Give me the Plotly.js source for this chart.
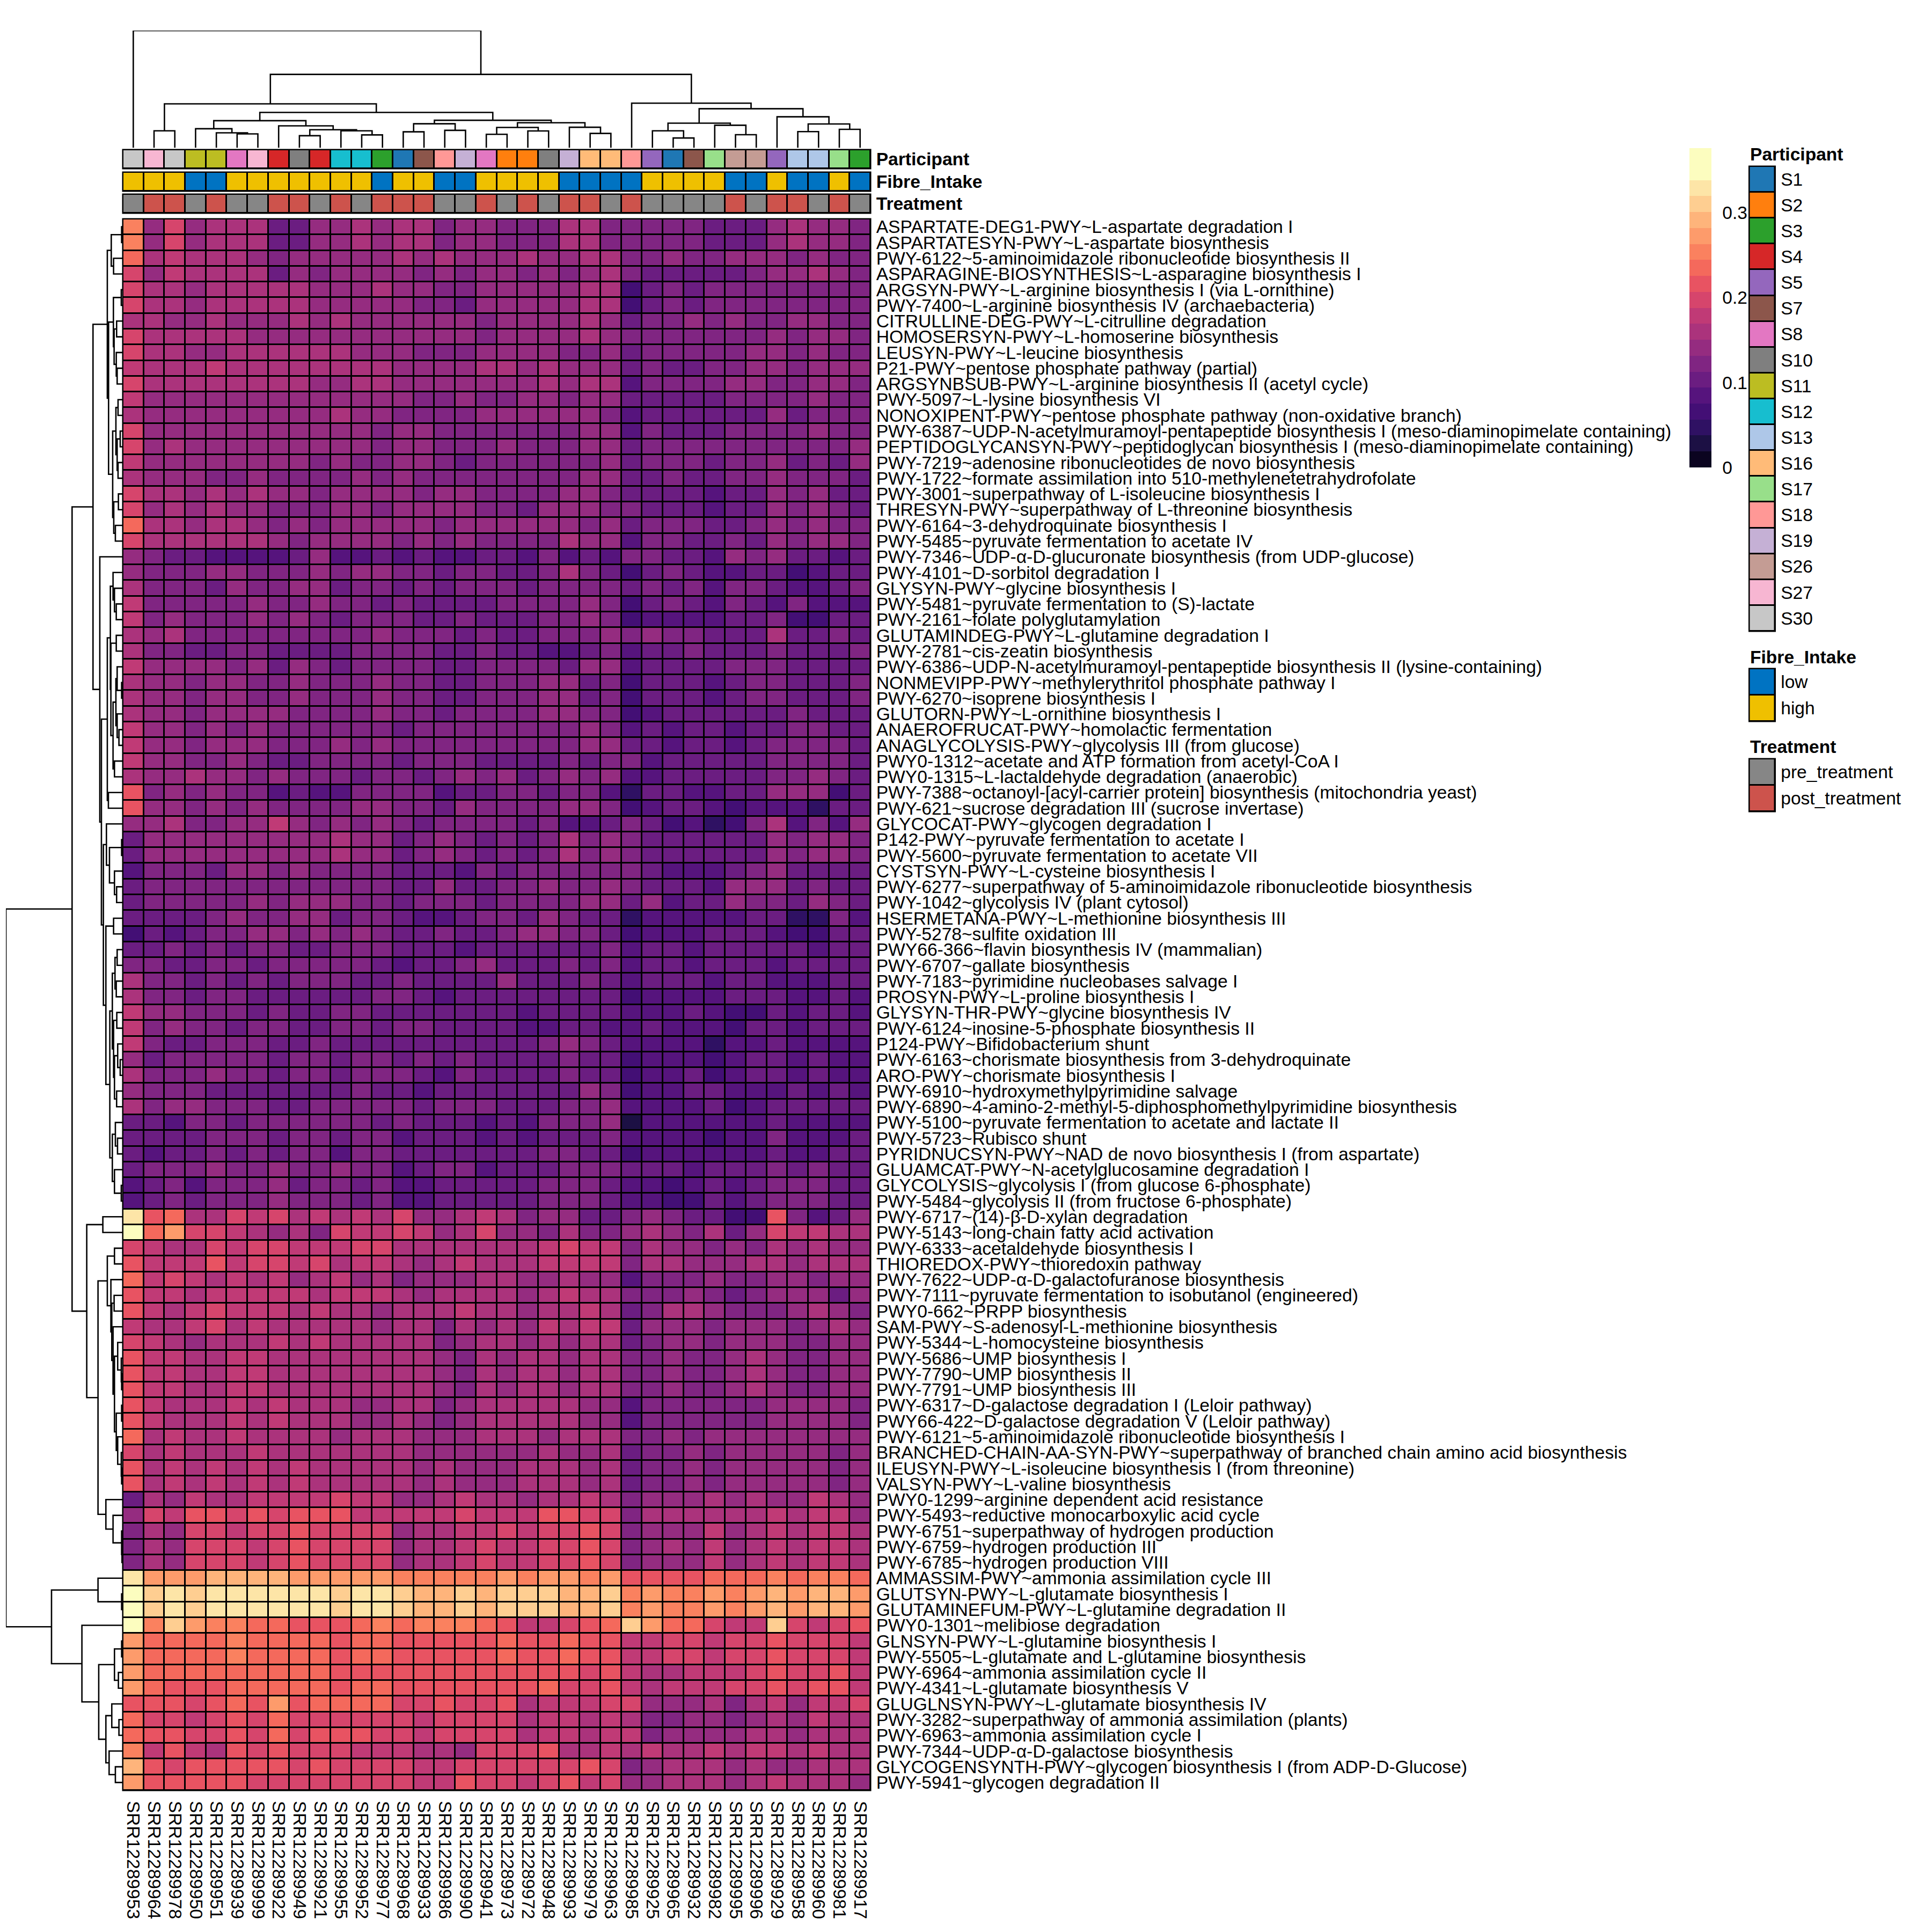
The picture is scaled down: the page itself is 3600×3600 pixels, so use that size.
<!DOCTYPE html>
<html><head><meta charset="utf-8">
<script src="https://cdn.plot.ly/plotly-3.0.1.min.js"></script>
<style>html,body{margin:0;padding:0;background:#fff}</style></head>
<body><div id="chart" style="width:3600px;height:3600px"></div>
<script>
const colLabels=["SRR12289953","SRR12289964","SRR12289978","SRR12289950","SRR12289951","SRR12289939","SRR12289999","SRR12289922","SRR12289949","SRR12289921","SRR12289955","SRR12289952","SRR12289977","SRR12289968","SRR12289933","SRR12289986","SRR12289990","SRR12289941","SRR12289973","SRR12289972","SRR12289948","SRR12289993","SRR12289979","SRR12289963","SRR12289985","SRR12289925","SRR12289965","SRR12289932","SRR12289982","SRR12289995","SRR12289996","SRR12289929","SRR12289958","SRR12289960","SRR12289981","SRR12289917"];
const rowLabels=["ASPARTATE-DEG1-PWY~L-aspartate degradation I","ASPARTATESYN-PWY~L-aspartate biosynthesis","PWY-6122~5-aminoimidazole ribonucleotide biosynthesis II","ASPARAGINE-BIOSYNTHESIS~L-asparagine biosynthesis I","ARGSYN-PWY~L-arginine biosynthesis I (via L-ornithine)","PWY-7400~L-arginine biosynthesis IV (archaebacteria)","CITRULLINE-DEG-PWY~L-citrulline degradation","HOMOSERSYN-PWY~L-homoserine biosynthesis","LEUSYN-PWY~L-leucine biosynthesis","P21-PWY~pentose phosphate pathway (partial)","ARGSYNBSUB-PWY~L-arginine biosynthesis II (acetyl cycle)","PWY-5097~L-lysine biosynthesis VI","NONOXIPENT-PWY~pentose phosphate pathway (non-oxidative branch)","PWY-6387~UDP-N-acetylmuramoyl-pentapeptide biosynthesis I (meso-diaminopimelate containing)","PEPTIDOGLYCANSYN-PWY~peptidoglycan biosynthesis I (meso-diaminopimelate containing)","PWY-7219~adenosine ribonucleotides de novo biosynthesis","PWY-1722~formate assimilation into 510-methylenetetrahydrofolate","PWY-3001~superpathway of L-isoleucine biosynthesis I","THRESYN-PWY~superpathway of L-threonine biosynthesis","PWY-6164~3-dehydroquinate biosynthesis I","PWY-5485~pyruvate fermentation to acetate IV","PWY-7346~UDP-α-D-glucuronate biosynthesis (from UDP-glucose)","PWY-4101~D-sorbitol degradation I","GLYSYN-PWY~glycine biosynthesis I","PWY-5481~pyruvate fermentation to (S)-lactate","PWY-2161~folate polyglutamylation","GLUTAMINDEG-PWY~L-glutamine degradation I","PWY-2781~cis-zeatin biosynthesis","PWY-6386~UDP-N-acetylmuramoyl-pentapeptide biosynthesis II (lysine-containing)","NONMEVIPP-PWY~methylerythritol phosphate pathway I","PWY-6270~isoprene biosynthesis I","GLUTORN-PWY~L-ornithine biosynthesis I","ANAEROFRUCAT-PWY~homolactic fermentation","ANAGLYCOLYSIS-PWY~glycolysis III (from glucose)","PWY0-1312~acetate and ATP formation from acetyl-CoA I","PWY0-1315~L-lactaldehyde degradation (anaerobic)","PWY-7388~octanoyl-[acyl-carrier protein] biosynthesis (mitochondria yeast)","PWY-621~sucrose degradation III (sucrose invertase)","GLYCOCAT-PWY~glycogen degradation I","P142-PWY~pyruvate fermentation to acetate I","PWY-5600~pyruvate fermentation to acetate VII","CYSTSYN-PWY~L-cysteine biosynthesis I","PWY-6277~superpathway of 5-aminoimidazole ribonucleotide biosynthesis","PWY-1042~glycolysis IV (plant cytosol)","HSERMETANA-PWY~L-methionine biosynthesis III","PWY-5278~sulfite oxidation III","PWY66-366~flavin biosynthesis IV (mammalian)","PWY-6707~gallate biosynthesis","PWY-7183~pyrimidine nucleobases salvage I","PROSYN-PWY~L-proline biosynthesis I","GLYSYN-THR-PWY~glycine biosynthesis IV","PWY-6124~inosine-5-phosphate biosynthesis II","P124-PWY~Bifidobacterium shunt","PWY-6163~chorismate biosynthesis from 3-dehydroquinate","ARO-PWY~chorismate biosynthesis I","PWY-6910~hydroxymethylpyrimidine salvage","PWY-6890~4-amino-2-methyl-5-diphosphomethylpyrimidine biosynthesis","PWY-5100~pyruvate fermentation to acetate and lactate II","PWY-5723~Rubisco shunt","PYRIDNUCSYN-PWY~NAD de novo biosynthesis I (from aspartate)","GLUAMCAT-PWY~N-acetylglucosamine degradation I","GLYCOLYSIS~glycolysis I (from glucose 6-phosphate)","PWY-5484~glycolysis II (from fructose 6-phosphate)","PWY-6717~(14)-β-D-xylan degradation","PWY-5143~long-chain fatty acid activation","PWY-6333~acetaldehyde biosynthesis I","THIOREDOX-PWY~thioredoxin pathway","PWY-7622~UDP-α-D-galactofuranose biosynthesis","PWY-7111~pyruvate fermentation to isobutanol (engineered)","PWY0-662~PRPP biosynthesis","SAM-PWY~S-adenosyl-L-methionine biosynthesis","PWY-5344~L-homocysteine biosynthesis","PWY-5686~UMP biosynthesis I","PWY-7790~UMP biosynthesis II","PWY-7791~UMP biosynthesis III","PWY-6317~D-galactose degradation I (Leloir pathway)","PWY66-422~D-galactose degradation V (Leloir pathway)","PWY-6121~5-aminoimidazole ribonucleotide biosynthesis I","BRANCHED-CHAIN-AA-SYN-PWY~superpathway of branched chain amino acid biosynthesis","ILEUSYN-PWY~L-isoleucine biosynthesis I (from threonine)","VALSYN-PWY~L-valine biosynthesis","PWY0-1299~arginine dependent acid resistance","PWY-5493~reductive monocarboxylic acid cycle","PWY-6751~superpathway of hydrogen production","PWY-6759~hydrogen production III","PWY-6785~hydrogen production VIII","AMMASSIM-PWY~ammonia assimilation cycle III","GLUTSYN-PWY~L-glutamate biosynthesis I","GLUTAMINEFUM-PWY~L-glutamine degradation II","PWY0-1301~melibiose degradation","GLNSYN-PWY~L-glutamine biosynthesis I","PWY-5505~L-glutamate and L-glutamine biosynthesis","PWY-6964~ammonia assimilation cycle II","PWY-4341~L-glutamate biosynthesis V","GLUGLNSYN-PWY~L-glutamate biosynthesis IV","PWY-3282~superpathway of ammonia assimilation (plants)","PWY-6963~ammonia assimilation cycle I","PWY-7344~UDP-α-D-galactose biosynthesis","GLYCOGENSYNTH-PWY~glycogen biosynthesis I (from ADP-D-Glucose)","PWY-5941~glycogen degradation II"];
// relative abundance, in percent
const cellPercent=[
[25,14,20,14,16,16,16,11,11,14,14,16,14,16,16,13,14,14,13,13,13,16,16,13,13,13,13,13,11,11,11,14,16,14,14,13],
[25,14,20,14,16,16,16,11,11,14,14,16,14,16,16,13,14,14,13,13,13,16,16,13,13,13,13,13,11,11,11,14,16,14,14,13],
[24,16,18,16,16,16,14,13,14,14,14,14,14,16,14,16,14,14,14,16,14,14,16,16,13,13,14,13,13,14,14,14,13,14,13,13],
[20,14,18,16,16,16,16,11,14,13,14,14,14,14,13,14,13,14,14,13,14,13,14,16,13,11,11,11,11,11,13,14,14,16,14,13],
[20,16,16,14,16,16,16,16,16,14,14,14,16,14,14,13,13,14,14,14,14,14,16,16,7,11,13,11,13,13,13,13,13,13,13,13],
[20,16,16,14,16,16,16,16,16,14,14,14,14,14,13,13,11,14,14,14,14,14,16,16,7,11,13,11,13,13,13,13,13,13,13,13],
[16,16,14,14,16,14,14,14,16,14,16,14,14,14,14,14,14,13,14,14,14,14,16,14,11,13,13,14,13,14,13,13,14,14,13,13],
[20,16,16,16,16,16,14,14,14,14,14,14,14,14,14,14,14,13,14,14,14,14,16,14,13,13,13,13,13,13,13,14,13,14,14,13],
[20,16,16,14,14,16,16,16,16,16,16,14,14,14,13,13,13,14,14,14,14,13,13,14,11,13,13,13,13,13,14,14,13,14,13,13],
[18,16,16,16,18,16,16,16,16,16,16,16,16,14,14,14,14,16,16,14,16,14,14,14,11,13,11,11,13,13,14,14,13,14,14,14],
[20,16,16,16,16,16,16,16,16,14,14,16,16,14,14,14,14,14,14,14,16,14,16,16,9,13,13,13,13,14,14,13,13,14,14,13],
[18,14,14,14,14,14,14,14,14,14,14,14,14,14,13,13,14,13,13,14,14,13,14,14,11,11,11,11,11,13,13,13,13,14,13,13],
[16,14,14,14,14,14,14,14,14,14,16,14,14,13,13,13,13,14,14,14,14,14,14,13,9,11,11,11,11,11,11,14,11,13,13,13],
[20,14,14,14,14,14,14,14,14,14,14,14,13,14,14,13,13,13,13,13,13,13,14,14,9,13,11,11,11,13,13,13,13,14,13,13],
[20,14,16,14,14,14,14,14,14,14,14,14,13,14,14,13,13,13,14,13,13,13,14,14,11,13,13,13,13,13,13,13,13,13,13,14],
[18,14,14,14,14,14,14,14,14,13,14,13,13,14,14,13,11,13,13,13,13,13,13,14,11,13,13,13,11,13,13,14,11,13,11,14],
[16,14,14,14,13,13,14,13,13,13,13,14,13,14,13,13,13,13,13,13,13,13,14,14,11,11,13,11,11,13,13,14,13,13,13,11],
[20,16,16,14,16,14,16,14,14,13,14,14,14,14,13,14,14,13,13,13,13,14,14,13,11,11,11,11,9,11,11,14,13,14,11,11],
[20,14,16,14,16,14,14,13,13,13,14,14,13,14,14,14,14,13,13,11,14,14,14,13,13,11,11,11,9,11,11,14,13,14,13,11],
[24,16,16,14,16,16,14,13,14,13,14,14,14,14,14,13,14,14,14,14,14,14,13,14,11,13,13,13,11,11,13,14,13,14,13,13],
[20,16,16,16,16,16,16,14,13,14,14,14,14,13,14,13,14,13,13,13,13,16,14,14,9,13,13,11,11,13,11,14,13,14,14,13],
[14,13,11,11,9,9,9,9,11,14,9,9,11,9,11,9,9,11,11,9,13,9,11,9,13,13,11,11,9,14,13,14,11,11,9,11],
[14,13,13,13,14,14,13,13,13,14,13,14,14,13,13,11,13,13,11,11,13,16,13,11,7,11,13,11,9,9,11,11,7,9,11,11],
[16,13,13,13,11,14,13,13,14,14,11,13,13,11,13,11,13,13,13,11,13,13,13,13,11,13,11,13,9,13,13,11,9,9,11,13],
[18,13,13,13,13,13,14,13,13,14,13,13,11,13,11,11,11,11,13,13,13,13,14,13,7,11,13,11,9,13,11,9,13,9,9,9],
[18,13,14,13,13,13,14,13,14,13,11,13,13,13,11,11,13,11,11,11,13,13,14,13,7,9,9,9,9,11,11,13,7,7,11,11],
[16,14,16,13,13,13,13,13,13,13,13,13,14,13,13,13,11,13,11,11,13,13,13,14,13,14,13,13,11,11,11,16,11,11,13,11],
[16,13,13,11,11,13,13,11,11,11,11,13,13,13,13,11,11,13,11,11,9,9,11,13,9,11,11,13,11,11,11,13,11,11,11,13],
[18,14,14,14,14,13,14,11,14,13,11,13,13,13,13,11,11,13,13,13,13,11,14,14,9,11,11,11,11,13,13,13,11,11,11,11],
[16,14,14,13,14,14,13,13,14,13,13,13,14,13,13,11,11,13,13,13,14,14,11,13,7,11,11,11,9,11,13,13,11,11,11,13],
[16,14,14,13,14,14,13,13,14,13,13,13,14,13,13,11,11,13,13,13,14,14,11,13,7,11,11,11,9,11,13,13,11,11,11,13],
[16,14,14,13,14,14,14,14,13,13,13,13,14,13,13,11,13,13,13,13,14,14,13,13,7,9,11,11,11,11,11,11,13,11,11,11],
[18,14,14,13,14,13,14,13,13,13,13,13,13,11,13,13,13,13,13,13,13,13,14,13,9,11,9,11,11,9,11,11,13,13,11,11],
[18,14,14,13,14,14,14,13,13,13,14,13,14,13,13,13,13,13,13,13,13,13,14,14,11,11,9,11,11,9,11,13,13,13,13,11],
[18,14,14,13,13,14,13,11,11,13,13,13,13,11,13,13,13,11,11,11,11,13,11,13,13,9,11,11,11,11,11,13,13,13,13,11],
[16,14,14,16,14,14,13,14,13,13,13,11,13,13,11,13,14,13,14,11,13,14,13,14,9,9,11,11,11,11,11,13,13,14,13,11],
[22,13,14,13,14,13,13,9,11,9,9,13,13,13,13,9,11,11,13,13,11,13,13,9,5,11,11,9,9,11,11,14,14,14,7,11],
[22,14,14,13,14,13,14,13,13,13,13,14,14,13,13,11,14,13,13,13,13,14,14,13,7,9,11,11,9,7,9,9,9,5,11,11],
[14,14,16,13,13,14,14,18,14,13,14,13,14,13,11,13,13,13,13,11,13,9,9,11,13,11,7,9,5,7,13,16,9,13,9,14],
[11,14,14,14,14,14,14,14,14,14,16,14,14,11,13,14,13,11,13,11,13,16,13,14,13,11,11,11,11,11,11,14,13,14,14,13],
[11,14,14,14,14,14,14,14,14,14,16,14,14,11,13,14,13,11,13,11,13,16,13,14,13,11,11,11,11,11,11,14,13,14,14,13],
[9,13,13,13,11,14,14,13,14,13,13,13,13,11,11,11,9,13,11,13,13,13,13,13,13,11,9,9,9,11,13,14,11,11,11,11],
[11,13,13,13,13,13,13,13,13,13,13,13,13,11,11,14,11,11,13,13,14,13,13,14,13,11,11,11,9,14,14,14,11,13,11,11],
[11,13,13,13,13,13,14,13,14,14,14,13,13,11,13,13,13,11,13,13,13,13,14,14,11,14,9,11,11,14,13,13,11,14,13,11],
[11,11,11,11,13,14,13,13,14,14,11,13,13,11,9,9,11,13,13,11,14,13,11,11,5,9,9,9,9,9,11,11,5,5,13,9],
[7,11,9,11,13,13,14,14,13,14,13,14,13,11,11,13,11,11,13,14,14,13,13,11,7,9,9,9,11,11,11,9,7,7,11,11],
[11,11,13,11,13,11,13,13,11,11,13,13,13,11,11,11,9,11,11,11,11,11,11,13,9,11,11,9,11,11,11,11,11,9,11,11],
[13,13,11,11,13,13,11,13,13,13,13,13,11,9,11,11,13,14,11,11,11,13,11,13,9,11,11,9,11,11,11,9,11,11,11,11],
[16,13,13,11,13,11,13,11,13,13,13,11,11,13,11,11,11,11,14,11,11,11,13,11,9,11,11,11,9,11,11,9,9,9,11,11],
[16,13,13,11,13,13,11,11,11,11,11,11,13,13,11,9,11,11,11,11,11,11,11,11,7,9,9,9,9,11,11,11,9,9,11,9],
[18,14,14,13,13,13,11,13,11,11,13,13,11,11,11,11,11,11,11,9,11,11,11,11,9,9,9,11,9,7,7,11,9,11,11,9],
[18,13,14,13,13,11,13,13,11,11,13,13,11,13,13,11,11,11,11,9,9,11,11,9,9,11,9,9,9,7,11,11,9,11,11,11],
[18,13,11,11,13,13,13,11,11,13,11,11,11,11,11,11,11,11,11,11,13,14,13,11,9,9,9,9,5,9,9,11,9,9,9,9],
[14,11,13,13,13,13,13,11,13,13,11,13,13,11,13,11,13,11,11,11,11,13,11,11,7,9,9,9,7,9,11,11,9,11,9,9],
[16,13,13,13,14,13,13,11,13,13,11,13,13,13,11,9,13,11,11,11,11,13,11,11,7,9,9,11,7,9,11,11,9,11,9,9],
[14,13,13,13,11,11,11,11,11,11,11,13,11,11,9,11,11,11,11,11,11,11,14,13,7,9,9,11,11,9,9,9,11,9,11,9],
[16,13,14,14,13,13,13,11,11,13,13,13,13,13,11,13,13,13,11,11,11,13,13,14,9,9,9,9,11,7,9,11,11,11,11,11],
[11,11,9,13,13,11,13,13,13,13,13,13,11,13,11,11,11,9,11,9,13,13,13,14,3,9,9,9,9,9,9,11,9,9,9,9],
[11,11,11,11,13,13,13,11,13,13,11,13,13,9,11,11,11,9,11,9,11,11,11,13,9,9,9,9,7,9,9,13,9,9,9,11],
[11,9,11,11,13,11,13,11,13,13,9,13,13,11,11,11,11,11,11,11,13,13,11,11,7,9,9,9,9,9,9,11,9,9,11,11],
[11,13,13,13,14,13,13,14,13,13,14,13,13,9,11,13,13,9,11,11,11,13,13,13,11,11,11,9,11,11,11,13,11,13,11,11],
[9,11,13,9,13,13,13,14,11,13,13,11,13,9,9,11,11,11,11,11,13,13,13,11,9,9,7,9,11,9,11,13,13,13,11,11],
[9,11,13,11,13,13,13,14,13,13,13,11,13,9,9,11,11,11,11,11,13,13,13,11,9,9,7,7,11,9,11,13,13,13,11,11],
[33,22,24,16,16,20,18,20,16,18,16,18,16,20,14,14,16,18,16,13,14,14,11,11,13,14,13,11,11,7,7,22,13,9,11,14],
[35,24,27,20,20,18,16,14,16,13,20,18,18,20,18,14,16,20,14,14,13,16,13,13,14,16,14,13,16,11,14,20,18,18,16,16],
[20,18,16,16,20,18,20,20,18,18,18,20,20,16,16,16,16,16,16,16,18,20,18,18,13,16,14,14,13,14,13,16,14,16,14,14],
[22,18,18,18,22,18,20,20,18,20,16,18,18,16,14,16,18,16,16,16,18,18,18,18,13,16,16,14,14,14,16,16,14,16,16,16],
[24,18,20,18,16,18,16,18,14,16,18,14,16,13,14,14,14,16,16,14,14,16,14,14,9,13,13,13,14,13,13,14,14,13,14,14],
[22,18,18,16,18,18,18,18,18,16,18,18,18,16,14,16,16,16,16,14,16,18,16,16,13,13,13,14,13,11,13,14,14,14,11,14],
[22,18,16,18,20,18,18,18,16,18,16,16,14,16,16,16,18,16,16,14,16,16,18,16,11,13,16,16,14,13,13,13,14,16,14,13],
[18,16,16,18,20,16,18,16,16,16,16,16,14,16,16,13,16,14,16,14,18,16,18,18,11,14,14,14,13,14,14,14,13,14,16,14],
[20,18,16,14,16,16,16,18,16,18,16,16,16,16,16,13,14,16,16,14,16,14,16,16,11,13,14,14,13,14,14,14,13,13,14,14],
[22,18,18,16,16,18,18,16,16,16,16,16,16,16,16,14,13,16,14,16,16,14,16,16,13,13,14,13,13,14,16,14,13,13,14,14],
[22,18,18,16,16,18,18,16,16,16,16,16,16,16,16,14,13,16,14,16,16,14,16,16,13,13,14,13,13,14,16,14,13,13,14,14],
[22,18,18,16,16,18,18,16,16,16,16,16,16,16,16,14,13,16,14,16,16,14,16,16,13,13,14,13,13,14,16,14,13,13,14,14],
[22,18,16,16,16,18,16,18,16,16,16,14,14,16,16,13,14,16,16,16,16,16,14,14,9,13,13,13,13,13,13,14,14,14,14,13],
[22,18,16,16,16,18,16,18,16,16,16,14,14,16,14,13,14,16,16,16,16,16,14,14,9,13,13,13,13,13,13,14,14,14,14,13],
[24,16,18,16,16,18,16,16,16,16,14,16,16,16,14,14,14,16,16,16,14,16,16,16,13,13,14,13,14,14,14,14,14,14,14,14],
[20,16,18,16,16,16,18,16,16,16,16,16,16,16,14,14,14,14,14,14,16,14,14,16,11,13,13,14,13,14,14,14,14,14,13,14],
[22,16,18,16,18,16,18,16,18,16,16,16,16,16,14,16,14,14,14,16,16,16,14,16,11,13,13,14,13,14,14,14,14,14,13,14],
[22,16,18,16,18,16,18,16,18,16,16,16,16,16,14,16,14,14,14,16,16,16,14,16,11,13,13,14,13,14,14,14,14,14,13,14],
[11,16,14,18,16,16,18,18,18,18,20,18,18,14,14,16,18,16,16,14,16,16,18,16,13,14,14,14,16,14,16,14,14,18,16,14],
[14,20,18,22,22,20,22,20,22,22,22,18,18,18,18,18,20,18,18,18,22,22,20,20,13,16,16,16,16,16,16,18,16,18,18,14],
[13,16,14,20,20,18,20,20,22,20,20,20,20,14,16,16,18,18,20,18,20,20,22,20,13,14,14,14,18,14,16,18,16,18,18,16],
[13,16,14,20,20,20,18,20,22,20,20,20,20,14,16,16,18,20,18,18,20,20,22,20,13,14,16,14,18,14,16,18,16,18,18,16],
[13,16,14,20,20,20,18,20,22,20,20,20,20,14,16,16,18,20,18,18,20,20,22,20,13,14,14,14,18,14,16,18,16,18,18,16],
[33,27,27,27,29,29,29,29,27,27,27,27,27,26,26,26,26,26,27,26,27,27,26,27,22,22,22,22,24,24,24,26,24,26,26,24],
[35,31,33,31,33,33,33,33,33,33,31,33,33,31,29,29,31,29,31,31,31,29,29,31,26,27,26,26,27,26,27,29,27,29,29,27],
[35,31,33,31,33,33,33,33,33,33,31,33,33,31,29,29,31,29,31,31,31,29,29,31,26,27,26,26,27,26,27,29,27,29,29,27],
[35,26,31,27,26,26,24,24,22,22,22,24,26,24,26,26,26,24,22,18,18,20,22,24,31,27,24,24,20,18,18,31,20,18,20,22],
[27,24,24,24,24,26,24,24,24,24,22,24,24,22,22,22,22,22,24,22,22,24,22,22,18,18,20,20,18,20,20,22,20,20,20,18],
[27,24,24,24,24,26,24,24,24,24,22,24,24,22,22,22,22,22,24,22,22,24,22,22,18,18,20,20,18,20,20,22,20,20,20,18],
[27,24,24,24,24,24,24,24,24,24,22,22,22,22,22,22,22,22,22,22,22,22,20,22,18,16,16,18,18,18,20,22,20,20,22,18],
[27,24,22,22,22,24,24,24,24,24,22,24,24,22,22,22,22,22,22,22,24,20,20,22,18,16,18,18,18,20,20,22,20,22,22,18],
[22,22,22,20,22,24,22,27,22,24,24,24,24,20,20,22,20,20,22,16,18,18,18,20,20,14,14,14,16,13,16,18,14,18,18,20],
[24,20,20,18,20,22,20,24,20,20,20,20,20,20,18,20,20,20,20,16,18,18,16,18,16,13,13,14,14,13,14,16,14,18,16,16],
[24,22,22,20,20,22,20,24,20,22,22,22,20,20,18,20,20,20,20,16,18,18,16,18,18,13,14,14,14,14,16,16,14,16,16,16],
[25,18,22,18,16,22,20,22,20,20,20,18,18,18,16,16,14,20,20,20,22,16,16,18,16,18,16,16,18,16,18,18,16,18,16,16],
[29,22,20,22,22,22,22,22,20,22,20,20,20,20,18,18,20,20,20,20,20,20,22,20,13,14,16,16,16,14,16,14,14,16,16,16],
[27,22,22,22,22,22,20,20,20,20,20,20,20,20,18,18,22,20,20,18,20,22,18,20,14,14,16,16,16,14,16,18,16,16,16,14]
];
const participant=["S30","S27","S30","S11","S11","S8","S27","S4","S10","S4","S12","S12","S3","S1","S7","S18","S19","S8","S2","S2","S10","S19","S16","S16","S18","S5","S1","S7","S17","S26","S26","S5","S13","S13","S17","S3"];
const fibreIntake=["high","high","high","low","low","high","high","high","high","high","high","high","low","high","high","low","low","high","high","high","high","low","low","low","low","high","high","high","high","low","low","high","low","low","high","low"];
const treatment=["pre","post","post","pre","post","pre","pre","post","post","pre","post","pre","post","post","post","pre","pre","post","pre","post","pre","post","post","pre","post","pre","pre","pre","pre","post","pre","post","post","pre","post","pre"];
const participantLevels=["S1","S2","S3","S4","S5","S7","S8","S10","S11","S12","S13","S16","S17","S18","S19","S26","S27","S30"];
const participantColors=["#1F77B4","#FF7F0E","#2CA02C","#D62728","#9467BD","#8C564B","#E377C2","#7F7F7F","#BCBD22","#17BECF","#AEC7E8","#FFBB78","#98DF8A","#FF9896","#C5B0D5","#C49C94","#F7B6D2","#C7C7C7"];
const fibreLevels=["low","high"],fibreColors=["#0073C2","#EFC000"];
const treatmentLevels=["pre_treatment","post_treatment"],treatmentColors=["#868686","#CD534C"];
const binColors=["#0B0420","#1C1044","#2F1163","#430F75","#56147D","#6B1D81","#802582","#952C80","#AB337C","#C03A76","#D6456C","#E85362","#F4695C","#FA815F","#FD9B6B","#FEB47B","#FECE91","#FDE5A7","#FCFDBF","#FCFDBF"];
const zMax=0.376;
// hierarchical merges: negative = leaf number, positive = earlier merge
const colMergeA=[-2,-6,-5,-4,-9,-12,-11,5,-8,4,-14,-16,11,-18,-20,14,-23,-22,16,13,10,1,-27,-26,-30,-29,24,-33,-35,28,-32,27,-25,22,-1];
const colMergeB=[-3,-7,2,3,-10,-13,6,7,8,9,-15,-17,12,-19,-21,15,-24,17,18,19,20,21,-28,23,-31,25,26,-34,-36,29,30,31,32,33,34];
const colMergeH=[83,68,73,93,59,63,83,88,107,132,78,85,117,66,82,99,70,100,122,134,172,214,48,83,64,110,120,79,90,116,151,190,217,357,570];
const rowMergeA=[-1,-3,1,-5,-7,-10,-9,5,4,-12,-14,-16,11,10,-18,-20,15,14,9,3,-25,-24,-23,-27,-30,-29,-33,-32,26,-35,29,24,23,-37,33,-40,-43,-42,36,-39,-45,-47,-49,42,-51,-54,-53,-56,47,45,44,-59,-58,-62,-61,53,51,41,40,35,-22,20,-64,-66,-69,-74,-73,-72,-76,-80,-79,-78,69,68,-71,65,-68,64,-85,-84,-83,-82,78,63,62,-88,-87,-91,-93,88,-96,-95,-99,-98,92,90,-90,87,85];
const rowMergeB=[-2,-4,2,-6,-8,-11,6,7,8,-13,-15,-17,12,13,-19,-21,16,17,18,19,-26,21,22,-28,-31,25,-34,27,28,-36,30,31,32,-38,34,-41,-44,37,38,39,-46,-48,-50,43,-52,-55,46,-57,48,49,50,-60,52,-63,54,55,56,57,58,59,60,61,-65,-67,-70,-75,66,67,-77,-81,70,71,72,73,74,75,76,77,-86,79,80,81,82,83,84,-89,86,-92,-94,89,-97,91,-100,93,94,95,96,97,98];
const rowMergeH=[5,50,63,7,33,30,35,47,51,25,13,25,30,37,23,40,49,55,78,85,35,45,53,35,5,30,20,30,37,45,53,65,68,79,85,5,33,45,73,90,50,30,35,42,32,13,27,33,45,50,57,28,40,7,45,57,71,93,107,118,127,165,110,45,47,5,7,27,5,5,7,27,35,45,53,60,65,85,3,5,53,93,137,200,282,5,137,5,23,45,20,60,40,75,93,133,227,397,652];

const W=3600,FONT="Liberation Sans, Arial, sans-serif",FS=33.6;
const gap=3;
const px=(a,b)=>[a/W,b/W];
const py=(t,b)=>[1-b/W,1-t/W];
const stepped=c=>{const n=c.length,o=[];c.forEach((col,i)=>{o.push([i/n,col]);o.push([(i+1)/n,col]);});return o;};
function tree(a,b,h){
  const pos=[],ht=[],P=[],H=[];
  const get=k=>k<0?[-k-1,0]:[pos[k-1],ht[k-1]];
  a.forEach((_,i)=>{
    const [pa,ha]=get(a[i]),[pb,hb]=get(b[i]);
    pos.push((pa+pb)/2);ht.push(h[i]);
    P.push(pa,pa,pb,pb,null);H.push(ha,h[i],h[i],hb,null);
  });
  return {P,H};
}
const hidden=o=>Object.assign({visible:false,fixedrange:true},o);
const tf={family:FONT,size:FS,color:"#000"};
const traces=[],chartLayout={width:W,height:W,margin:{l:0,r:0,t:0,b:0,autoexpand:false},paper_bgcolor:"#fff",plot_bgcolor:"rgba(0,0,0,0)",showlegend:false,shapes:[],annotations:[],font:tf};
function backing(x0,x1,y0,y1){
  chartLayout.shapes.push({type:"rect",xref:"paper",yref:"paper",layer:"below",x0:(x0-1.5)/W,x1:(x1+1.5)/W,y0:1-(y1+1.5)/W,y1:1-(y0-1.5)/W,fillcolor:"#000",line:{width:0}});
}
const X0=229,X1=1622;
// main heat map
traces.push({type:"heatmap",x:colLabels,y:rowLabels,z:cellPercent.map(r=>r.map(v=>v/100)),zmin:0,zmax:zMax,colorscale:stepped(binColors),xgap:gap,ygap:gap,hoverinfo:"skip",
  colorbar:{x:3148/W,xanchor:"left",xpad:0,ypad:0,y:1-276/W,yanchor:"top",lenmode:"pixels",len:595,thicknessmode:"pixels",thickness:41,outlinewidth:0,borderwidth:0,tickmode:"array",tickvals:[0,0.1,0.2,0.3],ticktext:["0","0.1","0.2","0.3"],ticks:"outside",ticklen:14,tickcolor:"rgba(0,0,0,0)",tickfont:tf}});
backing(X0,X1,408,3336);
chartLayout.xaxis={domain:px(X0,X1),type:"category",side:"bottom",tickmode:"array",tickvals:colLabels,ticktext:colLabels,tickangle:90,ticks:"outside",ticklen:12,tickcolor:"rgba(0,0,0,0)",tickfont:tf,showgrid:false,zeroline:false,showline:false};
chartLayout.yaxis={domain:py(408,3336),type:"category",autorange:"reversed",side:"right",tickmode:"array",tickvals:rowLabels,ticktext:rowLabels,ticks:"outside",ticklen:3,tickcolor:"rgba(0,0,0,0)",tickfont:tf,showgrid:false,zeroline:false,showline:false};
// annotation strips
const strips=[["Participant",participant,participantLevels,participantColors,279,314],["Fibre_Intake",fibreIntake,fibreLevels,fibreColors,321,356],["Treatment",treatment.map(t=>t+"_treatment"),treatmentLevels,treatmentColors,362,397]];
strips.forEach((s,i)=>{
  const k=i+2;
  traces.push({type:"heatmap",x:colLabels,y:[s[0]],z:[s[1].map(v=>s[2].indexOf(v))],zmin:-0.5,zmax:s[2].length-0.5,colorscale:stepped(s[3]),showscale:false,xgap:gap,ygap:gap,hoverinfo:"skip",xaxis:"x"+k,yaxis:"y"+k});
  backing(X0,X1,s[4],s[5]);
  chartLayout["xaxis"+k]=hidden({domain:px(X0,X1),type:"category",anchor:"y"+k});
  chartLayout["yaxis"+k]={domain:py(s[4],s[5]),type:"category",side:"right",anchor:"x"+k,tickmode:"array",tickvals:[s[0]],ticktext:["<b>"+s[0]+"</b>"],ticks:"outside",ticklen:3,tickcolor:"rgba(0,0,0,0)",tickfont:tf,showgrid:false,zeroline:false,showline:false};
});
// dendrograms
const topTree=tree(colMergeA,colMergeB,colMergeH);
traces.push({type:"scatter",mode:"lines",x:topTree.P,y:topTree.H,xaxis:"x5",yaxis:"y5",line:{color:"#000",width:2.6},hoverinfo:"skip",cliponaxis:false});
chartLayout.xaxis5=hidden({domain:px(X0,X1),range:[-0.5,35.5],anchor:"y5"});
chartLayout.yaxis5=hidden({domain:py(57,275.5),range:[0,570],anchor:"x5"});
const leftTree=tree(rowMergeA,rowMergeB,rowMergeH);
traces.push({type:"scatter",mode:"lines",x:leftTree.H,y:leftTree.P,xaxis:"x6",yaxis:"y6",line:{color:"#000",width:2.6},hoverinfo:"skip",cliponaxis:false});
chartLayout.xaxis6=hidden({domain:px(11,228.3),range:[652,0],anchor:"y6"});
chartLayout.yaxis6=hidden({domain:py(408,3336),range:[99.5,-0.5],anchor:"x6"});
// legends
const legends=[["Participant",participantLevels,participantColors,310,1176,288],["Fibre_Intake",fibreLevels,fibreColors,1246,1344,1224],["Treatment",treatmentLevels,treatmentColors,1414,1512,1391]];
legends.forEach((g,i)=>{
  const k=i+7;
  traces.push({type:"heatmap",x:[g[0]],y:g[1],z:g[1].map((_,j)=>[j]),zmin:-0.5,zmax:g[1].length-0.5,colorscale:stepped(g[2]),showscale:false,xgap:gap,ygap:gap,hoverinfo:"skip",xaxis:"x"+k,yaxis:"y"+k});
  backing(3259.5,3307.5,g[3],g[4]);
  chartLayout["xaxis"+k]=hidden({domain:px(3259.5,3307.5),type:"category",anchor:"y"+k});
  chartLayout["yaxis"+k]={domain:py(g[3],g[4]),type:"category",autorange:"reversed",side:"right",anchor:"x"+k,tickmode:"array",tickvals:g[1],ticktext:g[1],ticks:"outside",ticklen:3,tickcolor:"rgba(0,0,0,0)",tickfont:tf,showgrid:false,zeroline:false,showline:false};
  chartLayout.annotations.push({xref:"paper",yref:"paper",x:3259/W,y:1-g[5]/W,xanchor:"left",yanchor:"middle",text:"<b>"+g[0]+"</b>",showarrow:false,font:tf});
});
Plotly.newPlot("chart",traces,chartLayout,{displayModeBar:false,responsive:false,staticPlot:true});
</script></body></html>
